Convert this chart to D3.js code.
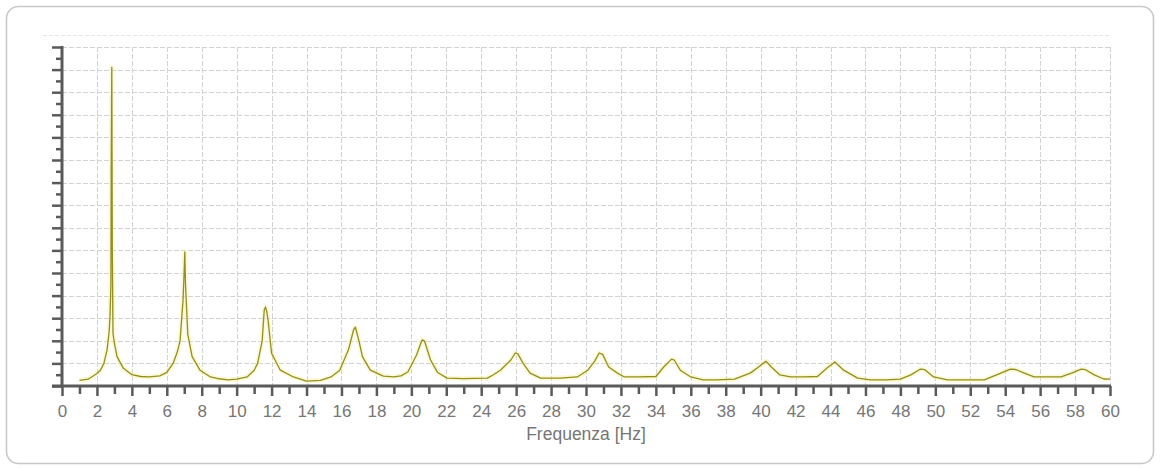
<!DOCTYPE html>
<html>
<head>
<meta charset="utf-8">
<script src="https://cdn.jsdelivr.net/npm/d3@7/dist/d3.min.js"></script>
<style>
  html, body { margin: 0; padding: 0; background: #ffffff; }
  svg { display: block; }
  .tick-label { font-family: "Liberation Sans", Arial, sans-serif; font-size: 17px; fill: #767676; }
</style>
</head>
<body>
<svg id="chart" width="1160" height="470"></svg>
<script>
// Spectrum samples: frequency (Hz) and amplitude (arbitrary units, one grid row = 1)
const freq = [
  1.0, 1.5, 2.0, 2.2, 2.4, 2.58, 2.7, 2.75, 2.8, 2.82, 2.85, 2.88, 2.92, 3.0, 3.15, 3.5, 4.0, 4.5, 5.0,
  5.6, 6.0, 6.36, 6.6, 6.76, 6.93, 7.0, 7.03, 7.07, 7.2, 7.45, 7.9, 8.5, 9.0, 9.5, 10.0,
  10.6, 11.0, 11.2, 11.46, 11.58, 11.65, 11.72, 11.8, 12.0, 12.5, 13.25, 14.0, 14.8,
  15.4, 15.9, 16.4, 16.7, 16.8, 17.0, 17.2, 17.65, 18.4, 19.0,
  19.4, 19.8, 20.3, 20.5, 20.62, 20.75, 21.1, 21.5, 22.05, 23.0, 24.35,
  24.7, 25.1, 25.7, 25.95, 26.1, 26.4, 26.8, 27.4, 28.5,
  29.5, 30.1, 30.5, 30.75, 30.95, 31.3, 31.8, 32.2, 33.0,
  34.0, 34.45, 34.9, 35.05, 35.4, 36.0, 36.7, 37.5,
  38.5, 39.4, 39.9, 40.3, 40.6, 41.1, 41.7, 42.5,
  43.25, 43.8, 44.25, 44.75, 45.55, 46.3, 47.2,
  48.0, 48.6, 49.15, 49.4, 49.9, 50.7, 51.8,
  52.8, 53.75, 54.3, 54.6, 55.1, 55.65, 56.4,
  57.2, 57.8, 58.35, 58.6, 59.1, 59.65, 60.0
];
const amplitude = [
  0.25, 0.3, 0.55, 0.7, 1.0, 1.6, 2.4, 3.1, 4.5, 10.0, 14.1, 6.0, 2.3, 1.9, 1.3, 0.8, 0.5, 0.42, 0.4,
  0.45, 0.6, 1.0, 1.5, 2.0, 3.8, 5.2, 5.93, 4.5, 2.3, 1.3, 0.7, 0.4, 0.32, 0.27, 0.3,
  0.4, 0.7, 1.0, 2.0, 3.36, 3.5, 3.3, 2.9, 1.45, 0.7, 0.4, 0.22, 0.25,
  0.4, 0.7, 1.6, 2.5, 2.6, 2.0, 1.3, 0.7, 0.44, 0.4,
  0.45, 0.62, 1.37, 1.8, 2.04, 2.0, 1.15, 0.6, 0.35, 0.33, 0.35,
  0.5, 0.7, 1.15, 1.46, 1.42, 1.0, 0.57, 0.35, 0.35,
  0.4, 0.7, 1.1, 1.46, 1.4, 0.84, 0.57, 0.4, 0.4,
  0.42, 0.84, 1.19, 1.15, 0.7, 0.4, 0.27, 0.27,
  0.3, 0.57, 0.85, 1.1, 0.85, 0.49, 0.4, 0.4,
  0.42, 0.8, 1.06, 0.7, 0.35, 0.27, 0.27,
  0.3, 0.49, 0.75, 0.72, 0.4, 0.27, 0.27,
  0.27, 0.57, 0.75, 0.73, 0.57, 0.4, 0.4,
  0.4, 0.57, 0.75, 0.72, 0.49, 0.31, 0.3
];
const xTickValues = d3.range(0, 61, 2);
const xMinorValues = d3.range(1, 60, 2);
const yMajorValues = d3.range(0, 16, 1);
const yMinorValues = d3.range(0.5, 15, 1);
const xTitle = "Frequenza [Hz]";

const svg = d3.select("#chart");
const plot = { left: 62, right: 1110, top: 47, bottom: 386 };

const x = d3.scaleLinear().domain([0, 60]).range([plot.left, plot.right]);
const y = d3.scaleLinear().domain([0, 15]).range([plot.bottom, plot.top]);

// outer rounded panel
svg.append("rect")
  .attr("x", 6.5).attr("y", 6.5)
  .attr("width", 1147).attr("height", 457)
  .attr("rx", 12).attr("ry", 12)
  .attr("fill", "#ffffff")
  .attr("stroke", "#c8c8c8")
  .attr("stroke-width", 1.6);

// faint chart-area border above the plot
svg.append("line")
  .attr("x1", 43).attr("x2", plot.right)
  .attr("y1", 35.5).attr("y2", 35.5)
  .attr("stroke", "#e6e6e6")
  .attr("stroke-dasharray", "4,2");

// grid
const grid = svg.append("g").attr("stroke", "#d2d2d2").attr("stroke-width", 1)
  .attr("stroke-dasharray", "5,2");
grid.selectAll("line.h").data(yMajorValues.filter(v => v > 0)).join("line")
  .attr("class", "h")
  .attr("x1", plot.left).attr("x2", plot.right)
  .attr("y1", d => Math.round(y(d)) + 0.5).attr("y2", d => Math.round(y(d)) + 0.5);
grid.selectAll("line.v").data(xTickValues.filter(v => v > 0)).join("line")
  .attr("class", "v")
  .attr("y1", plot.top).attr("y2", plot.bottom)
  .attr("x1", d => Math.round(x(d)) + 0.5).attr("x2", d => Math.round(x(d)) + 0.5);

// spectrum line with a soft yellow halo
const pts = freq.map((f, i) => [f, amplitude[i]]);
const line = d3.line().x(d => x(d[0])).y(d => y(d[1]));
svg.append("path").datum(pts)
  .attr("d", line)
  .attr("fill", "none")
  .attr("stroke", "#f4ef9e")
  .attr("stroke-opacity", 0.4)
  .attr("stroke-width", 5)
  .attr("stroke-linejoin", "round");
svg.append("path").datum(pts)
  .attr("d", line)
  .attr("fill", "none")
  .attr("stroke", "#938e22")
  .attr("stroke-width", 1.3)
  .attr("stroke-linejoin", "round");

// x axis: labelled even ticks, minor odd ticks
const axisColor = "#5a5a5a";
const xAxis = svg.append("g")
  .attr("transform", `translate(0,${plot.bottom})`)
  .call(d3.axisBottom(x).tickValues(xTickValues).tickSize(10).tickPadding(9).tickFormat(d3.format("d")));
xAxis.select(".domain").remove();
xAxis.selectAll(".tick line").attr("stroke", axisColor).attr("stroke-width", 2.5);
xAxis.selectAll(".tick text").attr("class", "tick-label").attr("font-family", null).attr("font-size", null)
  .attr("fill", "#767676");
const xMinor = svg.append("g")
  .attr("transform", `translate(0,${plot.bottom})`)
  .call(d3.axisBottom(x).tickValues(xMinorValues).tickSize(8).tickFormat(""));
xMinor.select(".domain").remove();
xMinor.selectAll(".tick line").attr("stroke", axisColor).attr("stroke-width", 2.5);

// y axis: unlabelled major and minor ticks
const yAxis = svg.append("g")
  .attr("transform", `translate(${plot.left},0)`)
  .call(d3.axisLeft(y).tickValues(yMajorValues).tickSize(10).tickFormat(""));
yAxis.select(".domain").remove();
yAxis.selectAll(".tick line").attr("stroke", axisColor).attr("stroke-width", 2.5);
const yMinor = svg.append("g")
  .attr("transform", `translate(${plot.left},0)`)
  .call(d3.axisLeft(y).tickValues(yMinorValues).tickSize(6).tickFormat(""));
yMinor.select(".domain").remove();
yMinor.selectAll(".tick line").attr("stroke", axisColor).attr("stroke-width", 2.5);

// axis lines
svg.append("line")
  .attr("x1", plot.left - 10).attr("x2", plot.right + 1)
  .attr("y1", plot.bottom).attr("y2", plot.bottom)
  .attr("stroke", axisColor).attr("stroke-width", 3);
svg.append("line")
  .attr("x1", plot.left).attr("x2", plot.left)
  .attr("y1", plot.top - 1).attr("y2", plot.bottom + 1)
  .attr("stroke", axisColor).attr("stroke-width", 3);

// axis title
svg.append("text")
  .attr("x", (plot.left + plot.right) / 2)
  .attr("y", 440)
  .attr("text-anchor", "middle")
  .attr("font-family", "'Liberation Sans', Arial, sans-serif")
  .attr("font-size", 17.5)
  .attr("fill", "#767676")
  .text(xTitle);
</script>
</body>
</html>
